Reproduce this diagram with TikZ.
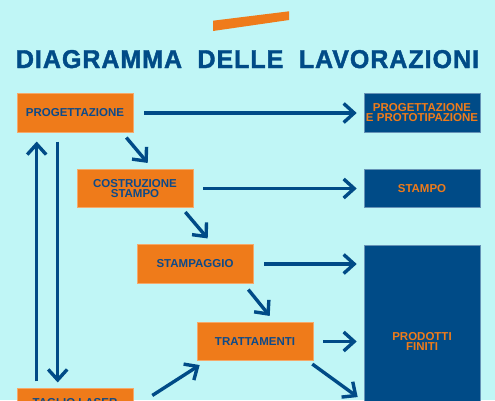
\documentclass[tikz,border=0pt]{standalone}
\usepackage{fontspec}
\usepackage{graphicx}
\setmainfont{Liberation Sans}
\newfontfamily\titlefont[LetterSpace=4,FakeBold=1.6]{Liberation Sans}
\usetikzlibrary{arrows.meta,calc}
\definecolor{bg}{HTML}{C0F6F6}
\definecolor{org}{HTML}{EF7B1A}
\definecolor{dblue}{HTML}{004B87}
\definecolor{tblue}{HTML}{0D4A89}
\begin{document}
\begin{tikzpicture}[x=1pt,y=-1pt,
  boxfont/.style={font=\bfseries\fontsize{11.5}{10}\selectfont},
  obox/.style={fill=org,draw=org!65!white,line width=0.6pt,minimum width=116pt,minimum height=38.5pt,inner sep=0pt,boxfont,text=tblue,align=center},
  bbox/.style={fill=dblue,draw=dblue!60!white,line width=0.6pt,minimum width=116pt,minimum height=38.5pt,inner sep=0pt,boxfont,text=org,align=center},
  arr/.style={draw=dblue,line width=3.4pt,-{Straight Barb[length=10.5pt,width=19pt]}},
  ln/.style={draw=dblue,line width=3.4pt}]
\useasboundingbox (0,0) rectangle (495,400);
\fill[bg] (0,0) rectangle (495,400);
\clip (0,0) rectangle (495,400);
% decorative bar
\fill[org] (213,20.7) -- (289,11.3) -- (289,20) -- (213,31) -- cycle;
% title
\node[text=dblue,anchor=base,inner sep=0pt] (title) at (247.5,68)
  {\resizebox{463pt}{18pt}{\titlefont\bfseries DIAGRAMMA\hspace{0.3em} DELLE\hspace{0.3em} LAVORAZIONI}};
% orange boxes
\node[obox] (prog) at (75,113) {PROGETTAZIONE};
\node[obox] (costr) at (135,188.5) {COSTRUZIONE\\STAMPO};
\node[obox] (stamp) at (195,264) {STAMPAGGIO};
\node[obox] (tratt) at (255,341.5) {TRATTAMENTI};
\node[obox] (taglio) at (75,408) {};
\node[boxfont,text=tblue,anchor=base,inner sep=0pt] (tagliot) at (75,406.2) {TAGLIO LASER};
% blue boxes
\node[bbox] (pep) at (422,113) {PROGETTAZIONE\\E PROTOTIPAZIONE};
\node[bbox] (stampo) at (422,188.5) {STAMPO};
\node[bbox,minimum height=192pt] (pf) at (422,341) {PRODOTTI\\FINITI};
% horizontal arrows
\draw[arr] ([xshift=11pt]prog.east) -- ([xshift=-7pt]pep.west);
\draw[arr] ([xshift=10pt]costr.east) -- ([xshift=-7pt]stampo.west);
\draw[arr] ([xshift=11pt]stamp.east) -- ($(stamp.east -| pf.west)+(-7,0)$);
\draw[arr] ([xshift=10pt]tratt.east) -- ($(tratt.east -| pf.west)+(-7,0)$);
% diagonal arrows
\draw[arr] ([xshift=-7pt,yshift=-5pt]prog.south east) -- ([xshift=71pt,yshift=6pt]costr.north west);
\draw[arr] ([xshift=-8pt,yshift=-4pt]costr.south east) -- ([xshift=71pt,yshift=6pt]stamp.north west);
\draw[arr] ([xshift=-5pt,yshift=-6pt]stamp.south east) -- ([xshift=73pt,yshift=6pt]tratt.north west);
\draw[arr] ([xshift=-1pt,yshift=-3pt]tratt.south east) -- ($(pf.west |- tratt.south)+(-6,36)$);
\draw[arr] ([xshift=19pt,yshift=-7pt]taglio.north east) -- ([xshift=3pt,yshift=-4pt]tratt.south west);
% vertical arrows
\draw[arr] ([xshift=20pt,yshift=7pt]taglio.north west) -- ([xshift=20pt,yshift=-9pt]prog.south west);
\draw[arr] ([xshift=41pt,yshift=-9pt]prog.south west) -- ([xshift=41pt,yshift=6pt]taglio.north west);
\end{tikzpicture}
\end{document}
